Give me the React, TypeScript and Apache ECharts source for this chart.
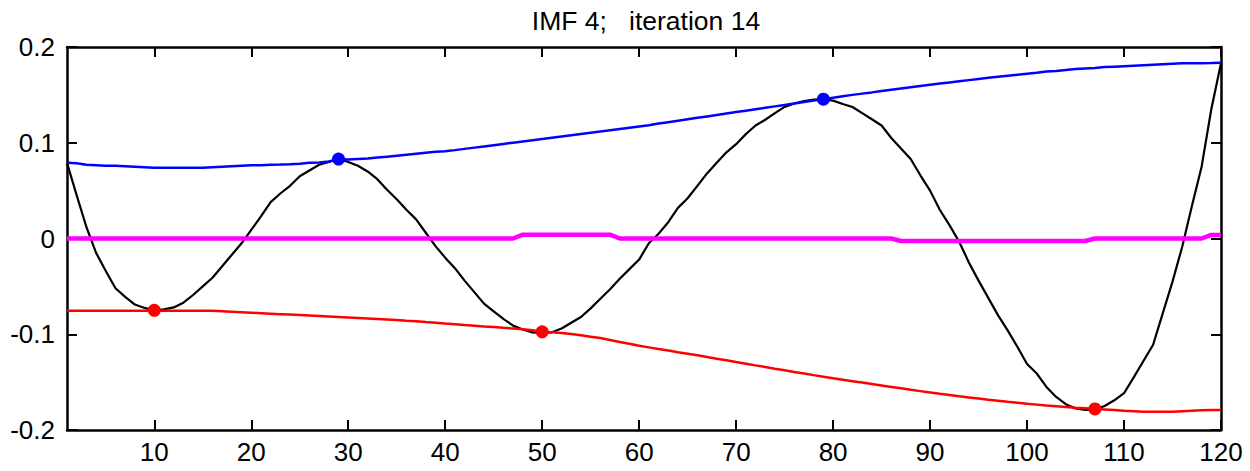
import React, { useEffect, useRef } from "react";
import * as echarts from "echarts";

const titleText = "IMF 4;   iteration 14";
const xTicks = [10, 20, 30, 40, 50, 60, 70, 80, 90, 100, 110, 120];
const yTicks = [-0.2, -0.1, 0, 0.1, 0.2];

// signal (black), index 1..120
const signal = [
  0.079, 0.045, 0.012, -0.015, -0.034, -0.052, -0.061, -0.069, -0.0725, -0.075,
  -0.074, -0.072, -0.067, -0.059, -0.05, -0.041, -0.029, -0.017, -0.005, 0.009,
  0.023, 0.038, 0.047, 0.055, 0.065, 0.071, 0.077, 0.08, 0.083, 0.08,
  0.076, 0.07, 0.062, 0.051, 0.041, 0.03, 0.02, 0.006, -0.008, -0.02,
  -0.031, -0.044, -0.056, -0.068, -0.076, -0.084, -0.091, -0.095, -0.098, -0.0985,
  -0.098, -0.094, -0.088, -0.082, -0.073, -0.063, -0.053, -0.042, -0.032, -0.022,
  -0.005, 0.005, 0.017, 0.032, 0.042, 0.055, 0.068, 0.079, 0.09, 0.0985,
  0.109, 0.118, 0.124, 0.131, 0.1375, 0.141, 0.1436, 0.145, 0.1455, 0.144,
  0.1405, 0.1373, 0.131, 0.1245, 0.118, 0.105, 0.094, 0.083, 0.066, 0.05,
  0.03, 0.014, -0.0034, -0.025, -0.044, -0.062, -0.08, -0.096, -0.113, -0.131,
  -0.141, -0.155, -0.1655, -0.173, -0.1775, -0.179, -0.1785, -0.175, -0.169, -0.1616,
  -0.145, -0.128, -0.111, -0.078, -0.045, -0.0086, 0.034, 0.075, 0.135, 0.183,
];

// upper envelope (blue)
const upper = [
  0.079, 0.0785, 0.077, 0.0765, 0.076, 0.076, 0.0755, 0.075, 0.0745, 0.074,
  0.074, 0.074, 0.074, 0.074, 0.074, 0.0745, 0.075, 0.0755, 0.076, 0.0765,
  0.0765, 0.077, 0.0772, 0.0775, 0.078, 0.079, 0.0795, 0.0805, 0.083, 0.0825,
  0.083, 0.0835, 0.0845, 0.0855, 0.0865, 0.0875, 0.0885, 0.0895, 0.0905, 0.0912,
  0.0923, 0.0936, 0.0949, 0.0962, 0.0975, 0.0988, 0.1001, 0.1014, 0.1027, 0.104,
  0.1053, 0.1066, 0.1079, 0.1092, 0.1105, 0.1118, 0.1131, 0.1144, 0.1157, 0.117,
  0.1183, 0.12, 0.1215, 0.123, 0.1245, 0.126, 0.1275, 0.129, 0.1305, 0.132,
  0.1335, 0.135, 0.1365, 0.138, 0.1395, 0.141, 0.1425, 0.144, 0.1455, 0.147,
  0.1485, 0.15, 0.1513, 0.1526, 0.154, 0.1553, 0.1566, 0.1579, 0.1592, 0.1605,
  0.1618, 0.163, 0.1642, 0.1654, 0.1666, 0.1678, 0.169, 0.17, 0.171, 0.172,
  0.173, 0.1745, 0.175, 0.176, 0.177, 0.1775, 0.178, 0.179, 0.1795, 0.18,
  0.1805, 0.181, 0.1815, 0.182, 0.1825, 0.183, 0.183, 0.183, 0.1832, 0.1835,
];

// lower envelope (red)
const lower = [
  -0.0755, -0.0755, -0.0755, -0.0755, -0.0755, -0.0755, -0.0755, -0.0755, -0.0755, -0.0755,
  -0.0755, -0.0755, -0.0755, -0.0755, -0.0755, -0.0755, -0.076, -0.0765, -0.077, -0.0775,
  -0.078, -0.0785, -0.079, -0.0795, -0.08, -0.0805, -0.081, -0.0815, -0.082, -0.0825,
  -0.083, -0.0835, -0.084, -0.0845, -0.085, -0.0858, -0.0865, -0.0873, -0.088, -0.0888,
  -0.0895, -0.0903, -0.091, -0.0918, -0.0925, -0.0933, -0.094, -0.0948, -0.0957, -0.0975,
  -0.0978, -0.0988, -0.0998, -0.101, -0.1025, -0.104, -0.106, -0.108, -0.11, -0.112,
  -0.1137, -0.1155, -0.117, -0.1187, -0.1203, -0.122, -0.1237, -0.1255, -0.1272, -0.129,
  -0.1307, -0.1325, -0.1342, -0.136, -0.1377, -0.1395, -0.141, -0.1427, -0.1443, -0.146,
  -0.1475, -0.149, -0.1505, -0.152, -0.1535, -0.155, -0.1565, -0.158, -0.1594, -0.1608,
  -0.1622, -0.1635, -0.1648, -0.166, -0.1672, -0.1684, -0.1695, -0.1706, -0.1716, -0.1726,
  -0.1735, -0.1744, -0.1752, -0.176, -0.1767, -0.1773, -0.178, -0.1785, -0.179, -0.18,
  -0.1805, -0.181, -0.181, -0.181, -0.181, -0.1805, -0.18, -0.1795, -0.179, -0.179,
];

// mean envelope (magenta)
const mean = [
  0, 0, 0, 0, 0, 0, 0, 0, 0, 0,
  0, 0, 0, 0, 0, 0, 0, 0, 0, 0,
  0, 0, 0, 0, 0, 0, 0, 0, 0, 0,
  0, 0, 0, 0, 0, 0, 0, 0, 0, 0,
  0, 0, 0, 0, 0, 0, 0, 0.004, 0.004, 0.004,
  0.004, 0.004, 0.004, 0.004, 0.004, 0.004, 0.004, 0, 0, 0,
  0, 0, 0, 0, 0, 0, 0, 0, 0, 0,
  0, 0, 0, 0, 0, 0, 0, 0, 0, 0,
  0, 0, 0, 0, 0, 0, -0.0026, -0.0026, -0.0026, -0.0026,
  -0.0026, -0.0026, -0.0026, -0.0026, -0.0026, -0.0026, -0.0026, -0.0026, -0.0026, -0.0026,
  -0.0026, -0.0026, -0.0026, -0.0026, -0.0026, -0.0026, 0, 0, 0, 0,
  0, 0, 0, 0, 0, 0, 0, 0, 0.0037, 0.0037,
];

// extrema markers
const maxX = [29, 79];
const maxY = [0.083, 0.1455];
const minX = [10, 50, 107];
const minY = [-0.075, -0.0975, -0.178];

const FONT = "Liberation Sans, Arial, Helvetica, sans-serif";

const toPairs = (arr: number[]) => arr.map((v, i) => [i + 1, v]);

export default function App() {
  const ref = useRef<HTMLDivElement>(null);
  useEffect(() => {
    if (!ref.current) return;
    const chart = echarts.init(ref.current, undefined, { renderer: "svg" });
    const axisLine = { show: true, onZero: false, lineStyle: { color: "#000", width: 2.5 } };
    const tickStyle = { show: true, inside: true, length: 10, lineStyle: { color: "#000", width: 2 } };
    chart.setOption({
      animation: false,
      backgroundColor: "#fff",
      grid: { left: 67, right: 29, top: 47, bottom: 41, containLabel: false },
      graphic: [
        {
          type: "text",
          x: 646,
          y: 21,
          style: {
            text: titleText,
            fill: "#000",
            font: `26.5px ${FONT}`,
            align: "center",
            verticalAlign: "middle",
          },
        },
      ],
      xAxis: [
        {
          type: "value",
          position: "bottom",
          min: 1,
          max: 120,
          axisLine,
          axisTick: { ...tickStyle, customValues: xTicks },
          axisLabel: {
            show: true,
            customValues: xTicks,
            color: "#000",
            fontFamily: FONT,
            fontSize: 26,
            margin: 9,
          },
          splitLine: { show: false },
        },
        {
          type: "value",
          position: "top",
          min: 1,
          max: 120,
          axisLine,
          axisTick: { ...tickStyle, customValues: xTicks },
          axisLabel: { show: false },
          splitLine: { show: false },
        },
      ],
      yAxis: [
        {
          type: "value",
          position: "left",
          min: -0.2,
          max: 0.2,
          interval: 0.1,
          axisLine,
          axisTick: { ...tickStyle, customValues: yTicks },
          axisLabel: {
            show: true,
            customValues: yTicks,
            color: "#000",
            fontFamily: FONT,
            fontSize: 26,
            margin: 12,
            formatter: (v: number) => String(Math.round(v * 10) / 10),
          },
          splitLine: { show: false },
        },
        {
          type: "value",
          position: "right",
          min: -0.2,
          max: 0.2,
          interval: 0.1,
          axisLine,
          axisTick: { ...tickStyle, customValues: yTicks },
          axisLabel: { show: false },
          splitLine: { show: false },
        },
      ],
      series: [
        {
          type: "line",
          data: toPairs(signal),
          showSymbol: false,
          lineStyle: { color: "#000", width: 2.2 },
          z: 2,
        },
        {
          type: "line",
          data: toPairs(upper),
          showSymbol: false,
          lineStyle: { color: "#0000ff", width: 2.5 },
          z: 3,
        },
        {
          type: "line",
          data: toPairs(lower),
          showSymbol: false,
          lineStyle: { color: "#ff0000", width: 2.5 },
          z: 3,
        },
        {
          type: "line",
          data: toPairs(mean),
          showSymbol: false,
          lineStyle: { color: "#ff00ff", width: 4.5 },
          z: 4,
        },
        {
          type: "scatter",
          data: maxX.map((x, i) => [x, maxY[i]]),
          symbol: "circle",
          symbolSize: 13,
          itemStyle: { color: "#0000ff", opacity: 1 },
          z: 5,
        },
        {
          type: "scatter",
          data: minX.map((x, i) => [x, minY[i]]),
          symbol: "circle",
          symbolSize: 13,
          itemStyle: { color: "#ff0000", opacity: 1 },
          z: 5,
        },
      ],
    });
    return () => chart.dispose();
  }, []);
  return (
    <div
      ref={ref}
      style={{ position: "fixed", left: 0, top: 0, width: 1250, height: 471, background: "#fff" }}
    />
  );
}
